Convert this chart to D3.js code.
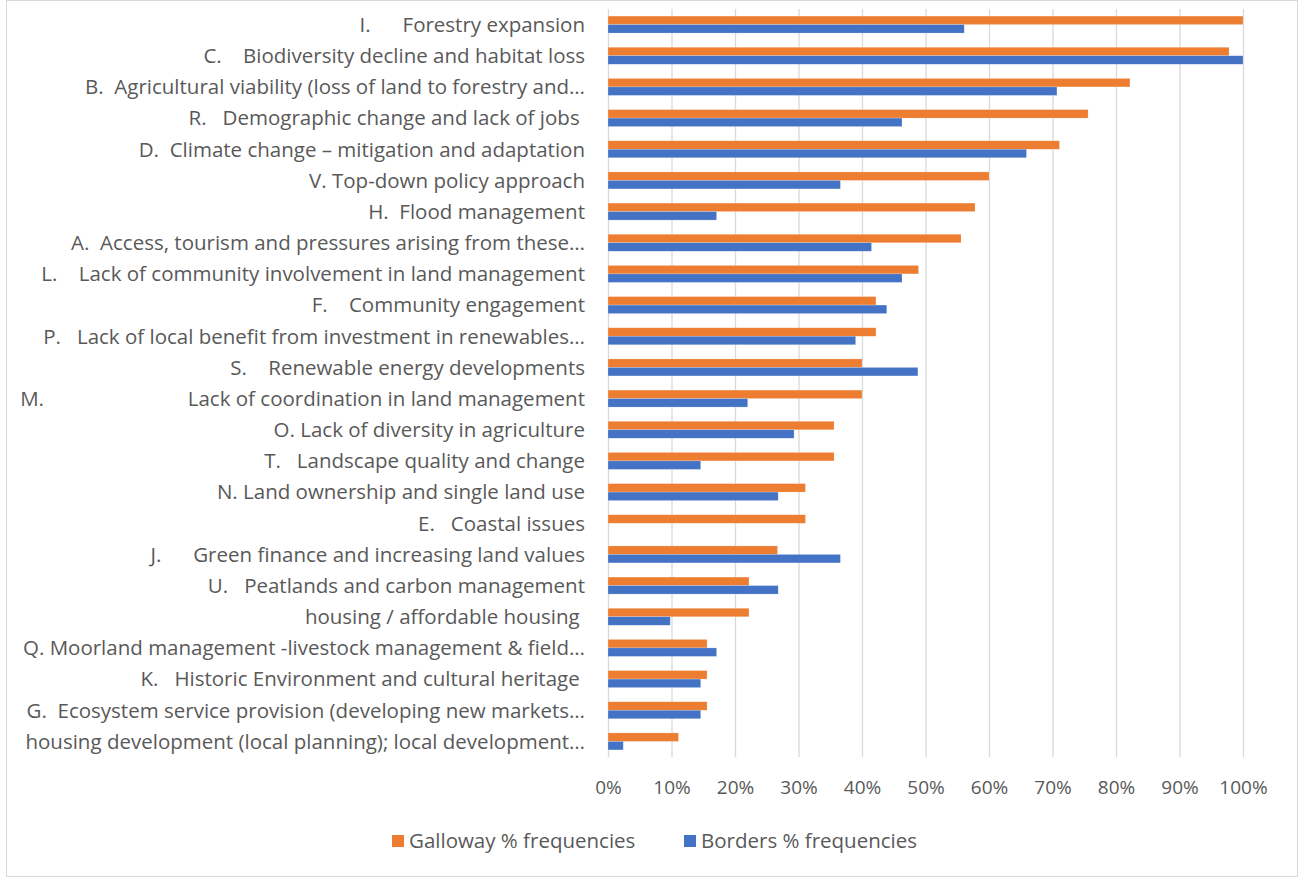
<!DOCTYPE html>
<html>
<head>
<meta charset="utf-8">
<script src="https://cdn.jsdelivr.net/npm/d3@7"></script>
<style>
  body { margin: 0; background: #fff; }
  text { font-family: "Open Sans", sans-serif; fill: #595959; white-space: pre; }
</style>
</head>
<body>
<div id="chart"></div>
<script>
// 1: DATA
const categories = [
    "I.      Forestry expansion",
    "C.    Biodiversity decline and habitat loss",
    "B.  Agricultural viability (loss of land to forestry and…",
    "R.   Demographic change and lack of jobs ",
    "D.  Climate change – mitigation and adaptation",
    "V. Top-down policy approach",
    "H.  Flood management",
    "A.  Access, tourism and pressures arising from these…",
    "L.    Lack of community involvement in land management",
    "F.    Community engagement",
    "P.   Lack of local benefit from investment in renewables…",
    "S.    Renewable energy developments",
    "M.                           Lack of coordination in land management",
    "O. Lack of diversity in agriculture",
    "T.   Landscape quality and change",
    "N. Land ownership and single land use",
    "E.   Coastal issues",
    "J.      Green finance and increasing land values",
    "U.   Peatlands and carbon management",
    "housing / affordable housing ",
    "Q. Moorland management -livestock management & field…",
    "K.   Historic Environment and cultural heritage ",
    "G.  Ecosystem service provision (developing new markets…",
    "housing development (local planning); local development…"
];
const galloway = [100, 97.8, 82.2, 75.6, 71.1, 60.0, 57.8, 55.6, 48.9, 42.2, 42.2, 40.0,
                  40.0, 35.6, 35.6, 31.1, 31.1, 26.7, 22.2, 22.2, 15.6, 15.6, 15.6, 11.1];
const borders = [56.1, 100, 70.7, 46.3, 65.9, 36.6, 17.1, 41.5, 46.3, 43.9, 39.0, 48.8,
                 22.0, 29.3, 14.6, 26.8, 0, 36.6, 26.8, 9.8, 17.1, 14.6, 14.6, 2.4];
const seriesNames = ["Galloway % frequencies", "Borders % frequencies"];
const seriesColors = ["#ED7D31", "#4472C4"];
const xTicks = [0, 10, 20, 30, 40, 50, 60, 70, 80, 90, 100];

// 2: SETUP
const W = 1304, H = 878;
const plot = { left: 608, right: 1243, top: 9, bottom: 757 };

const svg = d3.select("#chart").append("svg")
    .attr("width", W)
    .attr("height", H);

// chart border
svg.append("rect")
    .attr("x", 6.5).attr("y", 0.5)
    .attr("width", 1291).attr("height", 876)
    .attr("fill", "#fff")
    .attr("stroke", "#d9d9d9");

// 3: SCALES
const x = d3.scaleLinear().domain([0, 100]).range([plot.left, plot.right]);
const y = d3.scaleBand().domain(categories).range([plot.top, plot.bottom])
    .paddingInner(0.455).paddingOuter(0.2275);
const ySub = d3.scaleBand().domain(seriesNames).range([0, y.bandwidth()]);

// 4: GRIDLINES
svg.append("g")
    .selectAll("line")
    .data(xTicks)
    .enter().append("line")
    .attr("x1", d => x(d) + 0.5)
    .attr("x2", d => x(d) + 0.5)
    .attr("y1", plot.top)
    .attr("y2", plot.bottom)
    .attr("stroke", "#d9d9d9")
    .attr("stroke-width", 1.3);

// 5: BARS
const rows = categories.map((c, i) => ({ cat: c, values: [galloway[i], borders[i]] }));

const groups = svg.append("g")
    .selectAll("g")
    .data(rows)
    .enter().append("g")
    .attr("transform", d => `translate(0,${y(d.cat)})`);

groups.selectAll("rect")
    .data(d => d.values.map((v, k) => ({ name: seriesNames[k], value: v, color: seriesColors[k] })))
    .enter().append("rect")
    .attr("x", x(0))
    .attr("y", d => ySub(d.name))
    .attr("width", d => x(d.value) - x(0))
    .attr("height", ySub.bandwidth())
    .attr("fill", d => d.color)
    .attr("stroke", "#fff")
    .attr("stroke-opacity", 0.35)
    .attr("stroke-width", 0.6);

// 6: AXES
const yAxis = svg.append("g")
    .attr("transform", `translate(${plot.left},0)`)
    .call(d3.axisLeft(y).tickSize(0).tickPadding(23));
yAxis.select(".domain").remove();
yAxis.selectAll("text")
    .attr("xml:space", "preserve")
    .attr("dy", "0.36em")
    .style("font-size", "20.5px")
    .style("font-family", "'Open Sans', sans-serif")
    .attr("fill", "#595959");

const xAxis = svg.append("g")
    .attr("transform", `translate(0,${plot.bottom})`)
    .call(d3.axisBottom(x).tickValues(xTicks).tickFormat(d => d + "%").tickSize(0).tickPadding(24));
xAxis.select(".domain").remove();
xAxis.selectAll("text")
    .style("font-size", "19px")
    .style("font-family", "'Open Sans', sans-serif")
    .attr("fill", "#595959");

// 7: LEGEND
const legendItems = [
    { name: seriesNames[0], color: seriesColors[0], x: 392 },
    { name: seriesNames[1], color: seriesColors[1], x: 684 }
];
const legend = svg.append("g").selectAll("g")
    .data(legendItems)
    .enter().append("g")
    .attr("transform", d => `translate(${d.x},841)`);
legend.append("rect")
    .attr("x", 0).attr("y", -6)
    .attr("width", 12).attr("height", 12)
    .attr("fill", d => d.color);
legend.append("text")
    .attr("x", 17)
    .attr("dy", "0.35em")
    .style("font-size", "20.5px")
    .text(d => d.name);
</script>
</body>
</html>
